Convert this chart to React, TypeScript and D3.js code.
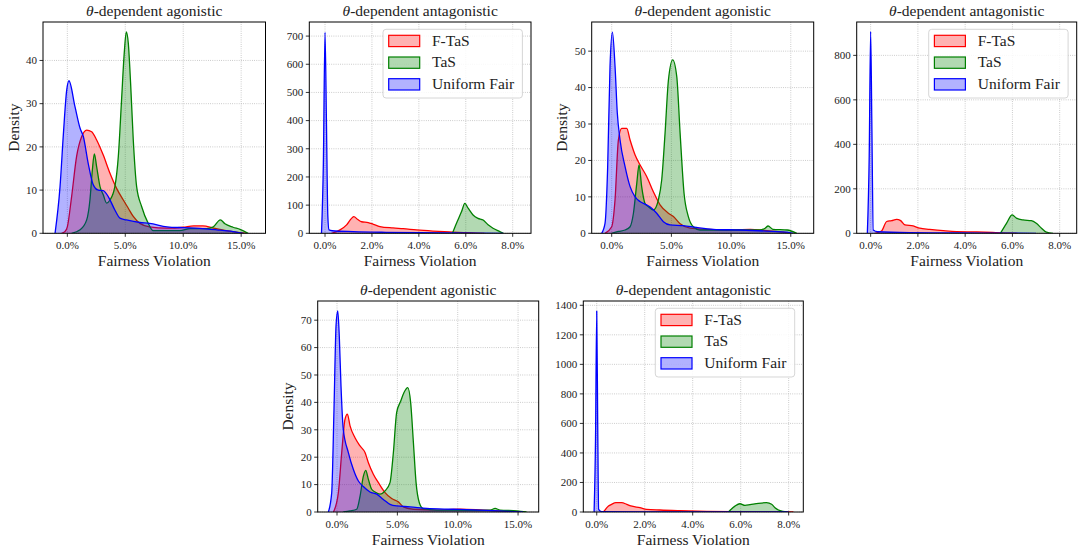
import React from "react";
import * as d3 from "d3";

type Pt = [number, number];

// ---- Data: x = fairness violation (%), y = density ----
const agon1FTaS: Pt[] = [[-0.5,0],[-0.2,0.4],[0,1.5],[0.37,8.5],[0.8,17.8],[1.24,22.4],[1.67,23.9],[2.1,23.5],[2.53,21.6],[3.1,18.1],[3.68,13.9],[4.25,10.4],[4.83,7.7],[5.26,5.8],[5.69,3.9],[6.26,2.3],[7.1,1.5],[8.6,1.2],[10,1.4],[10.9,1.7],[11.7,1.7],[12.6,1.2],[13.7,0.6],[14.9,0.15],[15.5,0]];
const agon1TaS: Pt[] = [[0.37,0],[1.1,0.8],[1.67,3.1],[1.95,7.7],[2.16,14.7],[2.33,18.4],[2.53,15.4],[2.82,10.8],[3.1,8.9],[3.39,7],[3.68,7.7],[4.1,10.8],[4.4,17.8],[4.68,30.9],[4.91,41.7],[5.09,46.6],[5.26,44],[5.46,34.7],[5.69,21.6],[5.98,10.8],[6.41,6.2],[6.98,2.3],[7.4,0.6],[8.6,0.6],[9.7,0.6],[10.6,1.1],[12,1.1],[12.6,1.5],[13.2,3.1],[13.6,2.2],[14.3,1.4],[14.9,0.9],[15.6,0]];
const agon1Uniform: Pt[] = [[-1.06,0],[-0.63,10.8],[-0.34,23],[-0.06,33],[0.14,35.3],[0.66,29.3],[1.1,24.3],[1.38,22.4],[1.8,16.2],[2.24,11.2],[2.67,10],[3.1,9.9],[3.53,8.5],[4.1,5.4],[4.54,3.5],[5.1,3.1],[6.26,2.5],[7.1,2.3],[8.6,1.5],[10,1.3],[11.4,1.15],[12.9,0.8],[14.3,0.4],[15.2,0]];

const anta1FTaS: Pt[] = [[0.28,0],[0.64,12],[0.92,30],[1.13,53],[1.23,59],[1.38,50],[1.56,41],[1.84,38],[2.06,32],[2.34,24],[2.9,19],[3.33,16.5],[3.9,12],[4.6,8],[5.3,5],[5.9,2.5],[6.45,0.5],[6.8,0]];
const anta1TaS: Pt[] = [[5.43,0],[5.6,35],[5.82,77],[5.96,106],[6.1,89],[6.31,65],[6.52,53],[6.74,47],[6.95,30],[7.16,18],[7.45,6],[7.6,0]];
const anta1Uniform: Pt[] = [[-0.15,0],[-0.07,250],[0,713],[0.06,400],[0.12,60],[0.17,12],[0.3,9],[1.2,6],[2.6,3.5],[4,2],[5.5,1],[7.6,0]];

const agon2FTaS: Pt[] = [[-0.56,0],[0,1.8],[0.28,9.2],[0.56,25.6],[0.84,28.8],[1.26,28.8],[1.54,25.6],[1.96,21.5],[2.37,18.8],[2.93,15.6],[3.49,11.4],[4.05,7.8],[4.75,5.5],[5.17,4.6],[5.73,2.6],[6.56,1.4],[7.96,1.1],[9.6,0.9],[11.6,1.1],[13,0.7],[14.4,0.3],[14.9,0]];
const agon2TaS: Pt[] = [[0,0],[0.56,0.5],[1.12,0.9],[1.54,1.8],[1.82,5.5],[2.1,13.7],[2.29,18.8],[2.51,12.8],[2.79,8.2],[3.07,7.3],[3.49,6.4],[3.91,9.2],[4.19,14.7],[4.47,27.5],[4.75,42],[5.11,47.6],[5.45,43],[5.73,27.5],[6.06,11],[6.42,4.6],[6.84,1.8],[7.4,0.9],[10.75,0.9],[12.4,0.9],[12.85,1.4],[13.1,2],[13.5,1.1],[14.7,0.9],[15.5,0]];
const agon2Uniform: Pt[] = [[-0.84,0],[-0.56,2.7],[-0.34,18],[-0.14,45.8],[0.06,55.2],[0.28,45.8],[0.47,33],[0.7,25.6],[1.12,18.3],[1.54,12.8],[1.96,10],[2.37,8.7],[2.93,7.8],[3.35,6.9],[3.77,5.5],[4.33,3.2],[4.89,2.3],[6,2.1],[7.1,1.6],[8.5,1.1],[10.75,0.9],[13,0.6],[14.7,0.3],[15.2,0]];

const anta2FTaS: Pt[] = [[0.18,0],[0.46,10],[0.68,53],[0.89,57],[1.1,63],[1.27,57],[1.45,38],[1.8,33],[2.08,23],[2.5,18],[3.07,12],[3.63,7.5],[4.48,6],[5.3,3],[5.9,0.5],[6.2,0]];
const anta2TaS: Pt[] = [[5.49,0],[5.75,45],[5.99,83],[6.17,68],[6.45,60],[6.8,57],[7.01,45],[7.23,23],[7.44,5],[7.72,0]];
const anta2Uniform: Pt[] = [[-0.14,0],[-0.06,350],[0,907],[0.05,500],[0.11,15],[0.3,7],[1.66,3],[3.8,1.5],[5.9,0.5],[7,0]];

const agon3FTaS: Pt[] = [[-0.3,0],[0.11,7],[0.39,21.7],[0.66,33.8],[0.86,35.7],[1.08,31.4],[1.49,27.1],[1.91,24.1],[2.32,21.7],[2.6,18],[3.01,13.8],[3.43,10.7],[3.98,7.1],[4.53,4.9],[5.08,3.7],[5.5,1.9],[6.33,1],[8.26,0.7],[10.2,1],[12.1,0.7],[13.8,0.4],[15.2,0]];
const agon3TaS: Pt[] = [[0.52,0],[1.08,0.4],[1.63,1],[1.91,5.8],[2.18,13],[2.38,15.2],[2.6,11.9],[2.87,8.3],[3.15,7.3],[3.56,6.5],[3.98,7.7],[4.39,10.7],[4.67,21.7],[4.94,36.3],[5.28,40.5],[5.55,43.6],[5.86,45.4],[6.1,40],[6.33,25.3],[6.55,10.7],[6.82,3.4],[7.15,1.2],[8.26,0.7],[11,0.6],[12.7,0.7],[13.1,1.3],[13.5,0.7],[14.9,0.4],[15.7,0]];
const agon3Uniform: Pt[] = [[-0.72,0],[-0.44,7],[-0.25,37.5],[-0.08,68],[0.06,73.4],[0.19,64],[0.33,46],[0.52,30.2],[0.94,21.7],[1.35,15.6],[1.77,11.3],[2.18,9.3],[2.73,7.3],[3.29,6.5],[3.84,4.6],[4.39,2.8],[4.94,2.2],[6.05,1.9],[7.43,1.3],[9.64,1],[12.4,0.6],[14.3,0.25],[15.4,0]];

const anta3FTaS: Pt[] = [[0.28,0],[0.49,40],[0.62,52],[0.8,63],[1.04,63],[1.25,52],[1.42,41],[1.8,29],[2.08,18],[2.64,13.5],[3.47,9],[4.58,4.5],[5.97,2],[7.36,0.5],[8.2,0]];
const anta3TaS: Pt[] = [[5.49,0],[5.76,40],[5.97,56],[6.18,45],[6.39,50],[6.74,59],[7.08,63],[7.29,52],[7.43,29],[7.64,9],[7.92,0]];
const anta3Uniform: Pt[] = [[-0.11,0],[-0.05,500],[0,1361],[0.04,600],[0.08,18],[0.2,3],[2,1],[5,0.5],[8,0]];

const seriesNames = ["F-TaS", "TaS", "Uniform Fair"];
const seriesColors = ["#ff0000", "#008000", "#0000ff"];

const xTicksAgon = [0, 5, 10, 15];
const xTicksAnta = [0, 2, 4, 6, 8];
const yTicks1 = [0, 10, 20, 30, 40];
const yTicks2 = [0, 100, 200, 300, 400, 500, 600, 700];
const yTicks3 = [0, 10, 20, 30, 40, 50];
const yTicks4 = [0, 200, 400, 600, 800];
const yTicks5 = [0, 10, 20, 30, 40, 50, 60, 70];
const yTicks6 = [0, 200, 400, 600, 800, 1000, 1200, 1400];

const titleAgon = "agonistic";
const titleAnta = "antagonistic";

interface Panel {
  kind: string;
  series: Pt[][];
  xDomain: [number, number];
  yMax: number;
  xTicks: number[];
  yTicks: number[];
  box: { left: number; top: number; width: number; height: number };
}

const panels: Panel[] = [
  { kind: titleAgon, series: [agon1FTaS, agon1TaS, agon1Uniform], xDomain: [-2.1, 17.1], yMax: 48.9, xTicks: xTicksAgon, yTicks: yTicks1, box: { left: 43, top: 22, width: 222.5, height: 211.3 } },
  { kind: titleAnta, series: [anta1FTaS, anta1TaS, anta1Uniform], xDomain: [-0.67, 8.78], yMax: 750, xTicks: xTicksAnta, yTicks: yTicks2, box: { left: 309.3, top: 22, width: 221.7, height: 211.3 } },
  { kind: titleAgon, series: [agon2FTaS, agon2TaS, agon2Uniform], xDomain: [-1.675, 16.92], yMax: 58, xTicks: xTicksAgon, yTicks: yTicks3, box: { left: 591.7, top: 22, width: 222, height: 211.3 } },
  { kind: titleAnta, series: [anta2FTaS, anta2TaS, anta2Uniform], xDomain: [-0.59, 8.72], yMax: 950, xTicks: xTicksAnta, yTicks: yTicks4, box: { left: 856.7, top: 22, width: 220, height: 211.3 } },
  { kind: titleAgon, series: [agon3FTaS, agon3TaS, agon3Uniform], xDomain: [-1.6, 16.71], yMax: 77, xTicks: xTicksAgon, yTicks: yTicks5, box: { left: 317.7, top: 301, width: 221, height: 211 } },
  { kind: titleAnta, series: [anta3FTaS, anta3TaS, anta3Uniform], xDomain: [-0.56, 8.61], yMax: 1429, xTicks: xTicksAnta, yTicks: yTicks6, box: { left: 583.3, top: 301, width: 220, height: 211 } },
];

const FONT = "'Liberation Serif', 'Times New Roman', serif";

function PanelView({ p, idx }: { p: Panel; idx: number }) {
  const { left, top, width, height } = p.box;
  const x = d3.scaleLinear().domain(p.xDomain).range([0, width]);
  const y = d3.scaleLinear().domain([0, p.yMax]).range([height, 0]);
  const area = d3
    .area<Pt>()
    .x((d) => x(d[0]))
    .y0(y(0))
    .y1((d) => y(d[1]))
    .curve(d3.curveMonotoneX);
  const line = d3
    .line<Pt>()
    .x((d) => x(d[0]))
    .y((d) => y(d[1]))
    .curve(d3.curveMonotoneX);
  const isAgon = p.kind === titleAgon;
  const clipId = `clip${idx}`;
  return (
    <g transform={`translate(${left},${top})`}>
      <defs>
        <clipPath id={clipId}>
          <rect x={0} y={0} width={width} height={height} />
        </clipPath>
      </defs>
      {p.xTicks.map((t) => (
        <line key={`gx${t}`} x1={x(t)} x2={x(t)} y1={0} y2={height} stroke="#b0b0b0" strokeWidth={0.8} strokeDasharray="0.8,1.4" />
      ))}
      {p.yTicks.map((t) => (
        <line key={`gy${t}`} x1={0} x2={width} y1={y(t)} y2={y(t)} stroke="#b0b0b0" strokeWidth={0.8} strokeDasharray="0.8,1.4" />
      ))}
      <g clipPath={`url(#${clipId})`}>
        {p.series.map((s, i) => (
          <g key={i}>
            <path d={area(s) || ""} fill={seriesColors[i]} fillOpacity={0.3} stroke="none" />
            <path d={line(s) || ""} fill="none" stroke={seriesColors[i]} strokeWidth={1.3} strokeLinejoin="round" />
          </g>
        ))}
      </g>
      <rect x={0} y={0} width={width} height={height} fill="none" stroke="#000" strokeWidth={1} />
      {p.xTicks.map((t) => (
        <g key={`xt${t}`} transform={`translate(${x(t)},${height})`}>
          <line y1={0} y2={3.5} stroke="#000" strokeWidth={0.8} />
          <text y={15.9} textAnchor="middle" fontSize={11} fontFamily={FONT} fill="#222">
            {t.toFixed(1) + "%"}
          </text>
        </g>
      ))}
      {p.yTicks.map((t) => (
        <g key={`yt${t}`} transform={`translate(0,${y(t)})`}>
          <line x1={-3.5} x2={0} stroke="#000" strokeWidth={0.8} />
          <text x={-6} dy="0.34em" textAnchor="end" fontSize={11} fontFamily={FONT} fill="#222">
            {String(t)}
          </text>
        </g>
      ))}
      <text x={width / 2} y={-6.3} textAnchor="middle" fontSize={15.5} fontFamily={FONT} fill="#222">
        <tspan fontStyle="italic">θ</tspan>
        {"-dependent " + p.kind}
      </text>
      <text x={width / 2} y={height + 32.5} textAnchor="middle" fontSize={15.5} fontFamily={FONT} fill="#222">
        Fairness Violation
      </text>
      {isAgon && (
        <text transform={`translate(-24.5,${height / 2}) rotate(-90)`} textAnchor="middle" fontSize={15.5} fontFamily={FONT} fill="#222">
          Density
        </text>
      )}
      {!isAgon && (
        <g transform={`translate(${width - 148},${7.3})`}>
          <rect x={0} y={0} width={139.4} height={68.7} rx={3} fill="#fff" fillOpacity={0.85} stroke="#cccccc" strokeWidth={0.8} />
          {seriesNames.map((n, i) => (
            <g key={n} transform={`translate(0,${i * 21.7})`}>
              <rect x={5.7} y={6} width={31} height={11.3} fill={seriesColors[i]} fillOpacity={0.3} stroke={seriesColors[i]} strokeWidth={1.2} />
              <text x={49} y={16.3} fontSize={15.5} fontFamily={FONT} fill="#222">
                {n}
              </text>
            </g>
          ))}
        </g>
      )}
    </g>
  );
}

export default function App() {
  return (
    <svg width={1080} height={552} viewBox="0 0 1080 552" style={{ display: "block", position: "absolute", left: 0, top: 0, background: "#fff" }}>
      <rect x={0} y={0} width={1080} height={552} fill="#fff" />
      {panels.map((p, i) => (
        <PanelView key={i} p={p} idx={i} />
      ))}
    </svg>
  );
}
